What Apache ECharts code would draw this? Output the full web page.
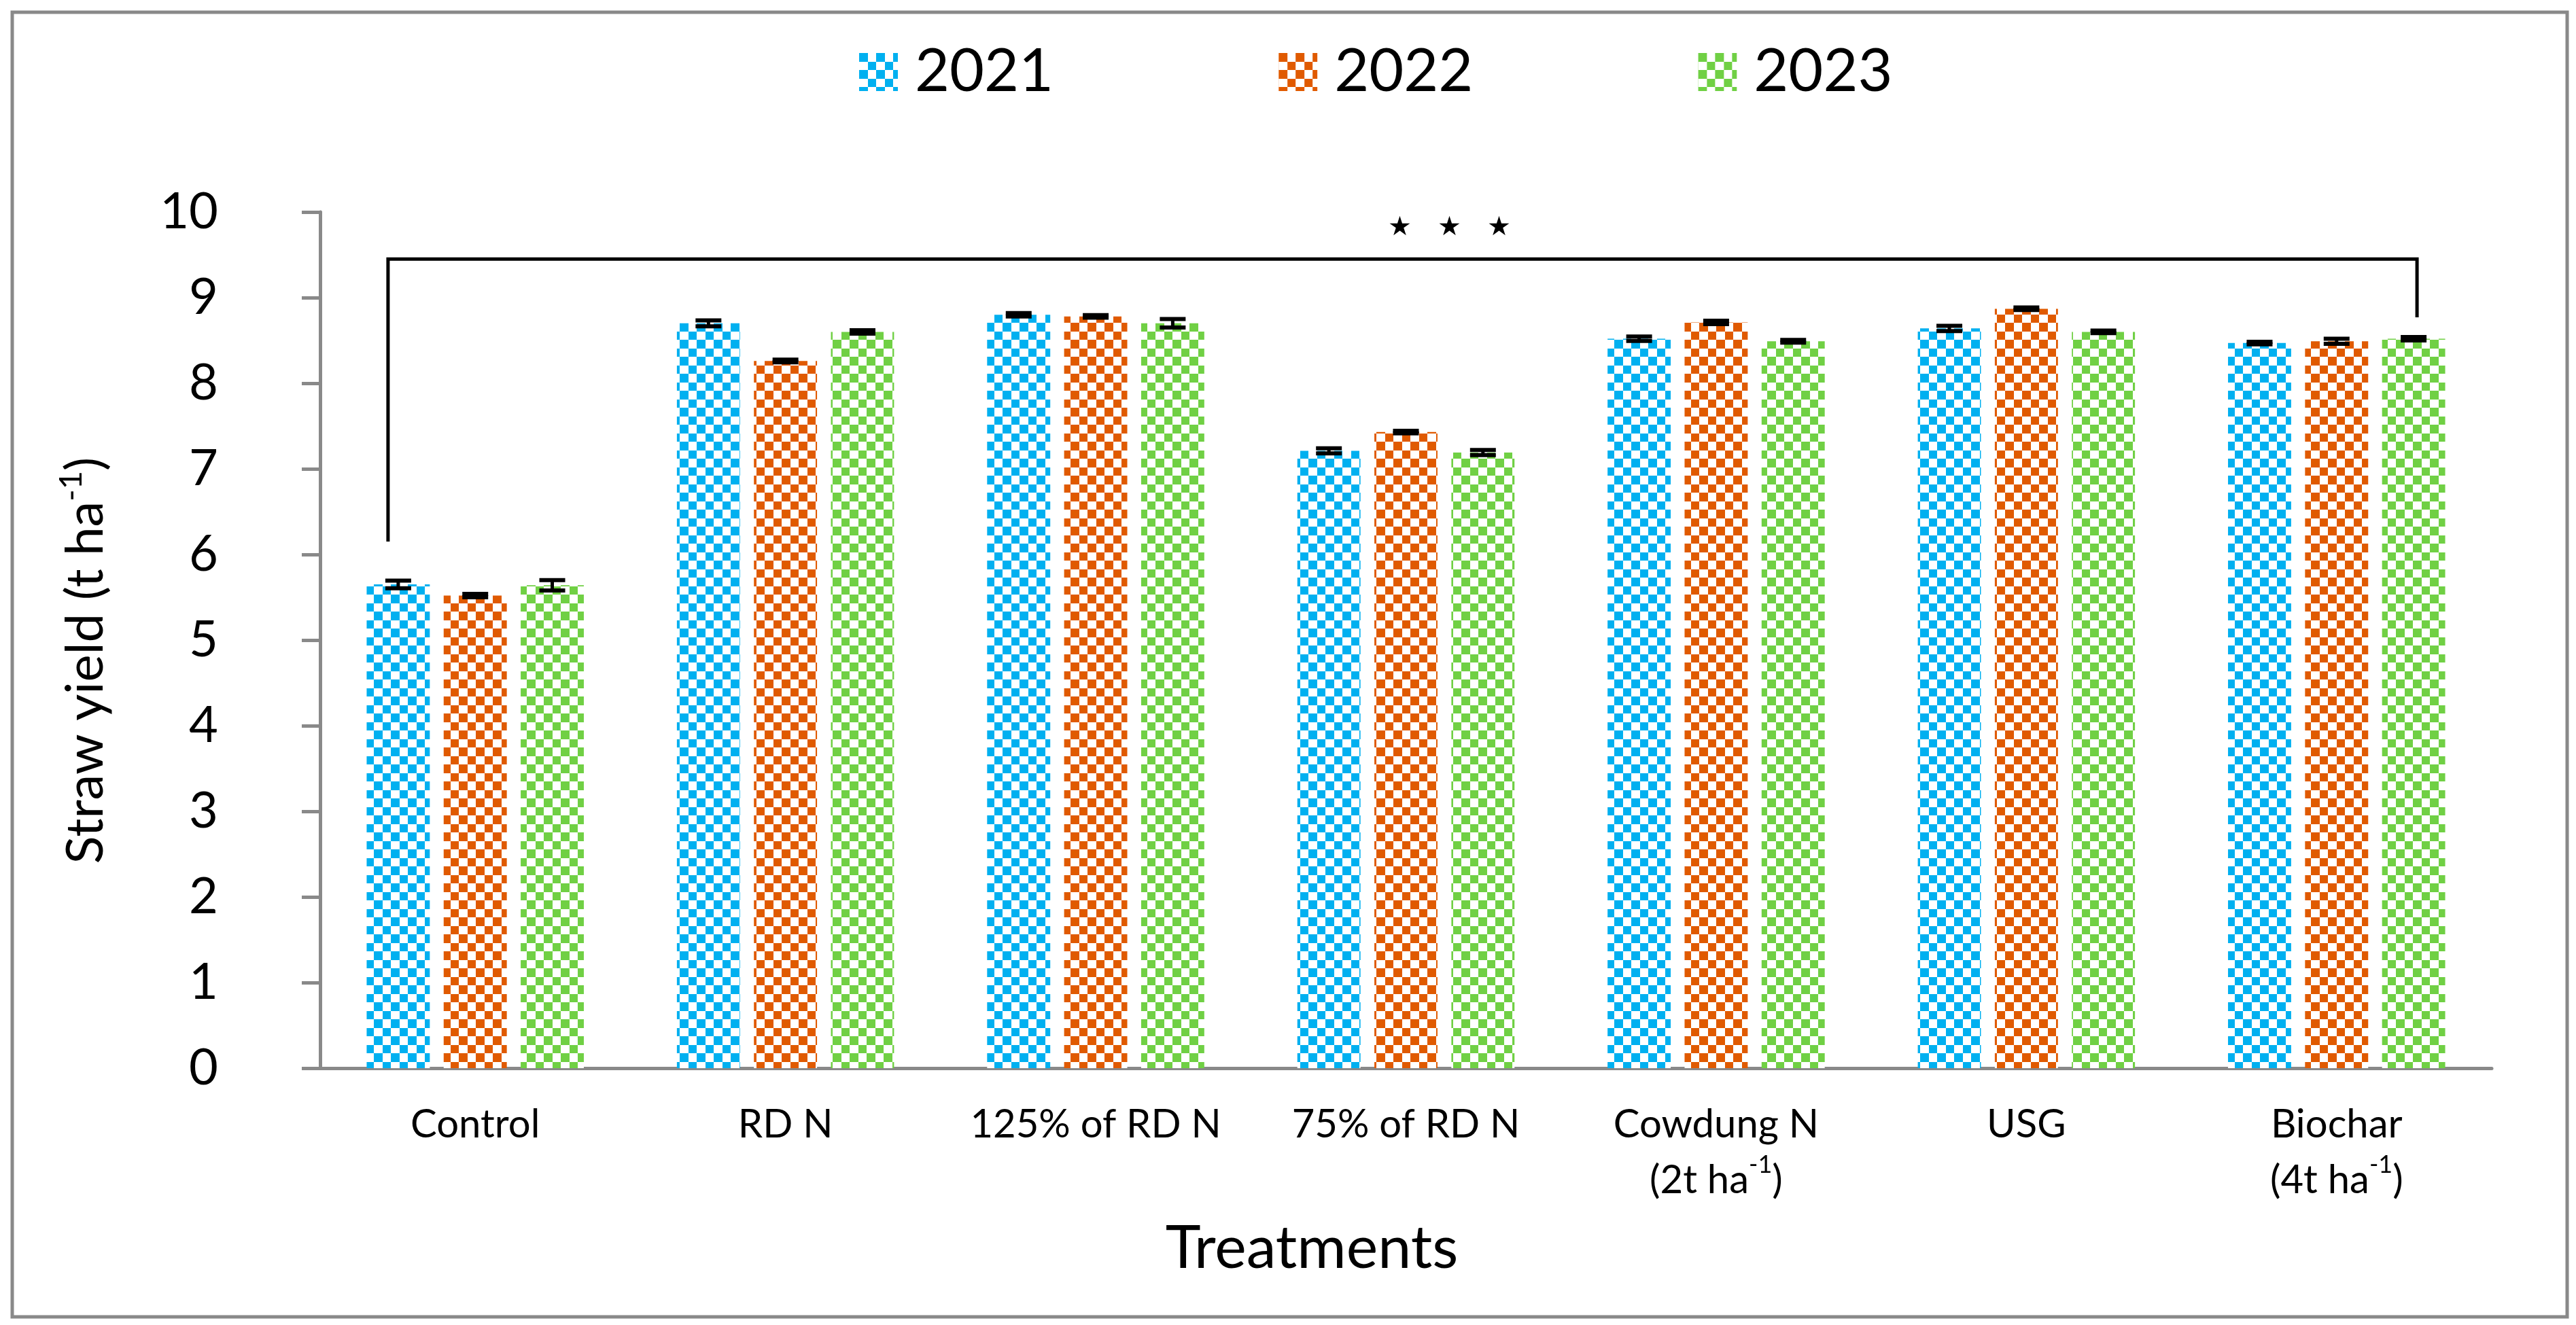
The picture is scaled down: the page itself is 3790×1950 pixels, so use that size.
<!DOCTYPE html>
<html><head><meta charset="utf-8">
<script src="https://cdn.jsdelivr.net/npm/echarts@6/dist/echarts.min.js"></script>
<style>html,body{margin:0;padding:0;background:#fff}#c{width:3790px;height:1950px}</style>
</head><body><div id="c"></div>
<script>
// ---------- data ----------
const categories = ['Control', 'RD N', '125% of RD N', '75% of RD N', 'Cowdung N\n(2t ha-1)', 'USG', 'Biochar\n(4t ha-1)'];
const years = ['2021', '2022', '2023'];
const yield2021 = [5.65, 8.70, 8.80, 7.21, 8.52, 8.64, 8.47];
const yield2022 = [5.52, 8.26, 8.78, 7.43, 8.71, 8.87, 8.49];
const yield2023 = [5.64, 8.60, 8.70, 7.19, 8.49, 8.60, 8.52];
const err2021 = [0.045, 0.035, 0.02, 0.03, 0.025, 0.03, 0.015];
const err2022 = [0.02, 0.015, 0.015, 0.015, 0.02, 0.015, 0.03];
const err2023 = [0.06, 0.02, 0.05, 0.03, 0.015, 0.015, 0.02];
const yMin = 0, yMax = 10, yInterval = 1;
// significance bracket: from Control/2021 to Biochar/2023
const bracketFrom = [0, 0];      // [category index, series index]
const bracketTo = [6, 2];
const bracketLevel = 9.45;
const bracketLeftBottom = 6.15;
const bracketRightBottom = 8.77;
const starLevel = 9.81;
const starText = ['★', '★', '★'];

// ---------- style ----------
const FONT = 'Lato';
const GRAY = '#898989';
const colors = ['#00B0F0', '#E05A00', '#70D044'];
const CAT_GAP = 0.30, BAR_GAP = 0.22, CAP = 38;

function checker(color) {
  const c = document.createElement('canvas');
  c.width = 25; c.height = 25;
  const g = c.getContext('2d');
  g.fillStyle = '#ffffff'; g.fillRect(0, 0, 25, 25);
  g.fillStyle = color;
  g.fillRect(0, 0, 13, 13);
  g.fillRect(13, 13, 12, 12);
  return { image: c, repeat: 'repeat' };
}

function barOffset(api, si) {
  const catW = api.size([1, 0])[0];
  const barW = catW * (1 - CAT_GAP) / (3 + 2 * BAR_GAP);
  return (si - 1) * barW * (1 + BAR_GAP);
}

function errRender(si) {
  return function (params, api) {
    const ci = api.value(0), v = api.value(1), e = api.value(2);
    const top = api.coord([ci, v + e]);
    const bot = api.coord([ci, v - e]);
    const x = top[0] + barOffset(api, si);
    const hw = CAP / 2;
    return {
      type: 'group', children: [
        { type: 'line', shape: { x1: x, y1: top[1], x2: x, y2: bot[1] }, style: { stroke: '#000', lineWidth: 5 } },
        { type: 'line', shape: { x1: x - hw, y1: top[1], x2: x + hw, y2: top[1] }, style: { stroke: '#000', lineWidth: 6 } },
        { type: 'line', shape: { x1: x - hw, y1: bot[1], x2: x + hw, y2: bot[1] }, style: { stroke: '#000', lineWidth: 6 } }
      ]
    };
  };
}

function bracketRender(params, api) {
  const pL = api.coord([bracketFrom[0], bracketLevel]);
  const pR = api.coord([bracketTo[0], bracketLevel]);
  const xl = pL[0] + barOffset(api, bracketFrom[1]) - 15;
  const xr = pR[0] + barOffset(api, bracketTo[1]) + 5;
  const yl = api.coord([bracketFrom[0], bracketLeftBottom])[1];
  const yr = api.coord([bracketTo[0], bracketRightBottom])[1];
  const yt = pL[1];
  const ys = api.coord([0, starLevel])[1];
  const mid = (xl + xr) / 2 + 69;
  const children = [
    { type: 'polyline', shape: { points: [[xl, yl], [xl, yt], [xr, yt], [xr, yr]] }, style: { stroke: '#000', lineWidth: 5, fill: null } }
  ];
  starText.forEach((s, i) => {
    children.push({ type: 'text', style: { text: s, x: mid + (i - 1) * 73, y: ys, fill: '#000', font: '39px "DejaVu Sans"', align: 'center', verticalAlign: 'middle' } });
  });
  return { type: 'group', children };
}

const values = [yield2021, yield2022, yield2023];
const errs = [err2021, err2022, err2023];

const series = [];
years.forEach((yr, si) => {
  series.push({
    name: yr, type: 'bar', data: values[si],
    barGap: (BAR_GAP * 100) + '%', barCategoryGap: (CAT_GAP * 100) + '%',
    itemStyle: { color: checker(colors[si]) },
    emphasis: { disabled: true }
  });
});
years.forEach((yr, si) => {
  series.push({
    type: 'custom', renderItem: errRender(si), silent: true, z: 10,
    encode: { x: 0, y: 1 },
    data: categories.map((_, i) => [i, values[si][i], errs[si][i]])
  });
});
series.push({ type: 'custom', renderItem: bracketRender, silent: true, z: 11, encode: { x: 0, y: 1 }, data: [[0, bracketLevel]] });

const chart = echarts.init(document.getElementById('c'), null, { renderer: 'canvas' });
chart.setOption({
  animation: false,
  backgroundColor: '#fff',
  textStyle: { fontFamily: FONT },
  grid: { left: 471, right: 124, top: 312, bottom: 378, containLabel: false, outerBoundsMode: 'none' },
  legend: {
    data: years, left: 1264, top: 62, padding: 0,
    itemWidth: 57, itemHeight: 56, itemGap: 331, icon: 'rect',
    textStyle: { fontSize: 88, color: '#000', fontFamily: FONT, padding: [0, 0, 0, 20] }
  },
  xAxis: {
    type: 'category', data: categories,
    axisLine: { lineStyle: { color: GRAY, width: 5 } },
    axisTick: { length: 21, lineStyle: { color: GRAY, width: 4 } },
    axisLabel: {
      interval: 0, margin: 42, fontSize: 58, lineHeight: 82, color: '#000', fontFamily: FONT,
      formatter: v => v.replace('ha-1', 'ha{sup|-1}'),
      rich: { sup: { fontSize: 36, verticalAlign: 'top', lineHeight: 82, color: '#000', fontFamily: FONT } }
    }
  },
  yAxis: {
    type: 'value', min: yMin, max: yMax, interval: yInterval,
    name: 'Straw yield (t ha{sup|-1})', nameLocation: 'middle', nameGap: 300, nameRotate: 90,
    nameTextStyle: { fontSize: 76, color: '#000', fontFamily: FONT, lineHeight: 90, padding: [0, 60, 0, 0],
      rich: { sup: { fontSize: 47, verticalAlign: 'top', lineHeight: 90, color: '#000', fontFamily: FONT } } },
    axisLine: { show: true, lineStyle: { color: GRAY, width: 5 } },
    axisTick: { show: true, length: 27, lineStyle: { color: GRAY, width: 5 } },
    splitLine: { show: false },
    axisLabel: { margin: 150, fontSize: 74, color: '#000', fontFamily: FONT }
  },
  graphic: [
    { type: 'rect', shape: { x: 18, y: 18, width: 3759, height: 1920 }, style: { stroke: GRAY, lineWidth: 5, fill: null }, silent: true },
    { type: 'text', x: 1930, y: 1838, style: { text: 'Treatments', font: '88px Lato', fill: '#000', align: 'center', verticalAlign: 'middle' }, silent: true }
  ],
  series
});
</script></body></html>
